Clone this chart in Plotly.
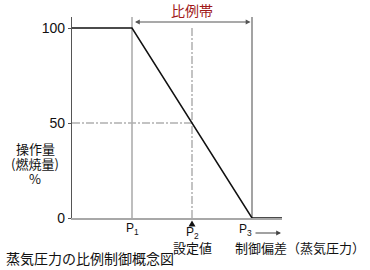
import plotly.graph_objects as go

# data
x_points = [0, 1, 3, 3.5]      # 0, P1, P3, end of axis
y_output = [100, 100, 0, 0]     # 操作量 %
p_positions = [1, 2, 3]
p_labels = ["P<sub>1</sub>", "P<sub>2</sub>", "P<sub>3</sub>"]
y_ticks = [0, 50, 100]
y_ticklabels = ["0", "50", "100"]
title_text = "蒸気圧力の比例制御概念図"
ylabel_lines = ["操作量", "(燃焼量)", "%"]
band_text = "比例帯"
setpoint_text = "設定値"
xlabel_text = "制御偏差（蒸気圧力）"

JP = "Noto Sans CJK JP"
LAT = "Liberation Sans"

L, R, T, B = 72, 88, 17, 52
W, H = 370, 270
PW, PH = W - L - R, H - T - B
XMAX, YMAX = 3.5, 105.8


def xpx(v):  # data x -> pixel
    return L + v / XMAX * PW


def px(xp):  # pixel -> paper
    return (xp - L) / PW


def py(yp):
    return (H - B - yp) / PH


fig = go.Figure()

# reference lines
fig.add_shape(type="line", x0=p_positions[0], x1=p_positions[0], y0=0, y1=YMAX,
              line=dict(color="#a8a8a8", width=1.5), layer="below")
fig.add_shape(type="line", x0=p_positions[2], x1=p_positions[2], y0=0, y1=YMAX,
              line=dict(color="#666666", width=1.2), layer="below")
fig.add_shape(type="line", x0=p_positions[1], x1=p_positions[1], y0=0, y1=100,
              line=dict(color="#b0b0b0", width=1.5, dash="8px,2px,2px,2px"), layer="below")
fig.add_shape(type="line", x0=0, x1=p_positions[1], y0=50, y1=50,
              line=dict(color="#b0b0b0", width=1.5, dash="8px,2px,2px,2px"), layer="below")

fig.add_trace(go.Scatter(x=x_points, y=y_output, mode="lines",
                         line=dict(color="#111111", width=1.5), showlegend=False,
                         hoverinfo="skip", cliponaxis=False))

# set-point marker below the axis (x in data, y in paper)
hw = 3.5 / PW * XMAX
p2 = p_positions[1]
fig.add_shape(type="path", xref="x", yref="paper",
              path=f"M {p2 - hw},{py(226.5)} L {p2 + hw},{py(226.5)} L {p2},{py(220.5)} Z",
              fillcolor="#111111", line=dict(width=0))


def label(xp, yp, text, family=JP, size=13, color="#111", **kw):
    fig.add_annotation(x=px(xp), y=py(yp), xref="paper", yref="paper", text=text,
                       showarrow=False, xanchor="center", yanchor="middle",
                       font=dict(family=family, size=size, color=color), **kw)


# 比例帯 arrow
x1p, x3p = xpx(p_positions[0]), xpx(p_positions[2])
fig.add_annotation(x=px(x3p - 1.5), y=py(22), ax=-(x3p - x1p - 3), ay=0,
                   xref="paper", yref="paper", axref="pixel", ayref="pixel", text="",
                   showarrow=True, arrowhead=2, arrowside="end+start", arrowsize=0.8,
                   arrowwidth=1.2, arrowcolor="#555555", standoff=0, startstandoff=0)
label(xpx(p_positions[1]), 10, band_text, size=14, color="#a01818")

# P labels
label(xpx(p_positions[0]), 229, p_labels[0], family=LAT, size=12)
label(xpx(p_positions[1]), 233, p_labels[1], family=LAT, size=12)
label(xpx(p_positions[1]), 247.5, setpoint_text)
label(xpx(p_positions[2]) - 7, 230, p_labels[2], family=LAT, size=12)
fig.add_annotation(x=px(281), y=py(233), ax=-27, ay=0,
                   xref="paper", yref="paper", axref="pixel", ayref="pixel", text="",
                   showarrow=True, arrowhead=2, arrowsize=0.8, arrowwidth=1.2,
                   arrowcolor="#444444", standoff=0)
label(300, 247.5, xlabel_text)
for yp, txt in zip([148, 163, 178], ylabel_lines):
    label(35, yp, txt, size=13)
label(90, 258, title_text, size=14)

fig.update_layout(
    width=W, height=H,
    margin=dict(l=L, r=R, t=T, b=B),
    paper_bgcolor="white", plot_bgcolor="white",
    xaxis=dict(range=[0, XMAX], showgrid=False, zeroline=False, showticklabels=False,
               showline=True, linecolor="#a8a8a8", linewidth=2, fixedrange=True),
    yaxis=dict(range=[0, YMAX], showgrid=False, zeroline=False,
               tickvals=y_ticks, ticktext=y_ticklabels, ticks="outside", ticklen=3,
               tickcolor="#555", tickfont=dict(family=LAT, size=14, color="#111"),
               showline=True, linecolor="#555555", linewidth=1.2, fixedrange=True),
    font=dict(family=JP),
)

fig.write_html("out.html", config={"displayModeBar": False})
